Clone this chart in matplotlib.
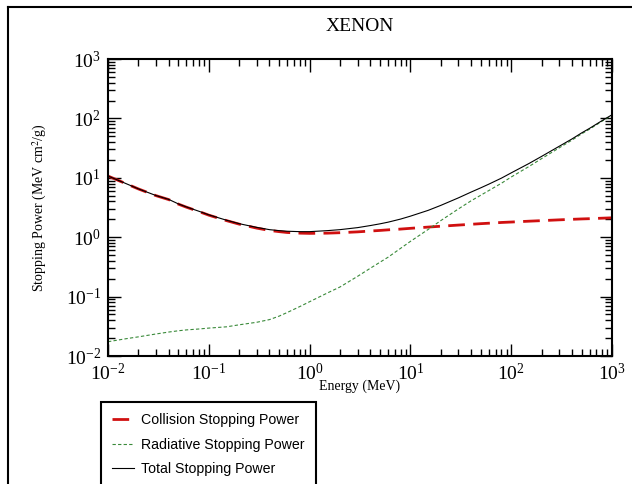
import matplotlib
matplotlib.use("Agg")
import matplotlib.pyplot as plt
from matplotlib.lines import Line2D
from matplotlib.ticker import LogLocator, NullFormatter

# energies (MeV) and stopping powers (MeV cm2/g)
energy = [0.01, 0.015, 0.02, 0.03, 0.04, 0.05, 0.06, 0.08, 0.1, 0.15, 0.2, 0.3,
          0.4, 0.5, 0.6, 0.8, 1, 1.5, 2, 3, 4, 5, 6, 8, 10, 15, 20, 30, 40, 50,
          60, 80, 100, 150, 200, 300, 400, 500, 600, 800, 1000]
collision = [10.7, 8.0, 6.5, 5.0, 4.3, 3.6, 3.2, 2.7, 2.35, 1.9, 1.66, 1.42,
             1.30, 1.24, 1.20, 1.17, 1.16, 1.17, 1.19, 1.23, 1.27, 1.30, 1.33,
             1.37, 1.41, 1.48, 1.53, 1.60, 1.65, 1.69, 1.72, 1.77, 1.80, 1.86,
             1.90, 1.96, 2.00, 2.03, 2.05, 2.09, 2.12]
radiative = [0.0174, 0.0195, 0.021, 0.0235, 0.0253, 0.0266, 0.0275, 0.0285,
             0.0295, 0.031, 0.0335, 0.037, 0.041, 0.047, 0.054, 0.068, 0.082,
             0.115, 0.145, 0.22, 0.30, 0.38, 0.46, 0.65, 0.85, 1.35, 1.9, 3.0,
             4.1, 5.1, 6.1, 8.1, 10.3, 15.5, 21, 32, 43, 55, 66, 90, 113]
total = [10.72, 8.02, 6.52, 5.02, 4.33, 3.63, 3.23, 2.73, 2.38, 1.93, 1.69,
         1.46, 1.34, 1.29, 1.26, 1.24, 1.24, 1.29, 1.34, 1.45, 1.57, 1.68, 1.79,
         2.02, 2.26, 2.83, 3.43, 4.60, 5.75, 6.79, 7.82, 9.87, 12.1, 17.4, 22.9,
         34.0, 45.0, 57.0, 68.1, 92.1, 115.1]

serif = "Liberation Serif"
sans = "Liberation Sans"
plt.rcParams["mathtext.fontset"] = "stix"
plt.rcParams["axes.unicode_minus"] = False

fig = plt.figure(figsize=(6.32, 4.84), dpi=100)
ax = fig.add_axes([108/632, 1-356/484, 504/632, 297/484])

ax.plot(energy, collision, color="#d01010", lw=2.0, dashes=(6, 3),
        label="Collision Stopping Power")
ax.plot(energy, radiative, color="#3a8a3a", lw=0.8, dashes=(3, 2),
        label="Radiative Stopping Power")
ax.plot(energy, total, color="black", lw=0.8, label="Total Stopping Power")

ax.set_xscale("log")
ax.set_yscale("log")
ax.set_xlim(0.01, 1000)
ax.set_ylim(0.01, 1000)

for a in (ax.xaxis, ax.yaxis):
    a.set_major_locator(LogLocator(base=10, numticks=10))
    a.set_minor_locator(LogLocator(base=10, subs=range(2, 10), numticks=10))
    a.set_minor_formatter(NullFormatter())
ax.tick_params(which="both", direction="in", top=True, right=True, width=1)
ax.tick_params(which="major", length=9, labelsize=14, pad=5)
ax.tick_params(which="minor", length=5)
for lab in ax.get_xticklabels() + ax.get_yticklabels():
    lab.set_family(serif)
for s in ax.spines.values():
    s.set_linewidth(1.5)

ax.set_title("XENON", family=serif, fontsize=14, pad=20)
ax.set_xlabel("Energy (MeV)", family=serif, fontsize=10, labelpad=-3)
ax.set_ylabel("Stopping Power (MeV cm$^2$/g)", family=serif, fontsize=10,
              labelpad=12)

fig.legend(loc="upper left", bbox_to_anchor=(101/632, 1-402/484),
           borderaxespad=0, prop={"family": sans, "size": 10.2}, fancybox=False,
           framealpha=1, edgecolor="black", handlelength=1.5,
           handletextpad=0.5, labelspacing=0.72, borderpad=0.8)
fig.legends[0].get_frame().set_linewidth(1.5)

# outer frame
fig.add_artist(Line2D([8/632, 8/632], [0, 1-7/484], color="black", lw=1.5,
                      transform=fig.transFigure))
fig.add_artist(Line2D([8/632, 1], [1-7/484, 1-7/484], color="black", lw=1.5,
                      transform=fig.transFigure))

fig.savefig("out.png", dpi=100)
